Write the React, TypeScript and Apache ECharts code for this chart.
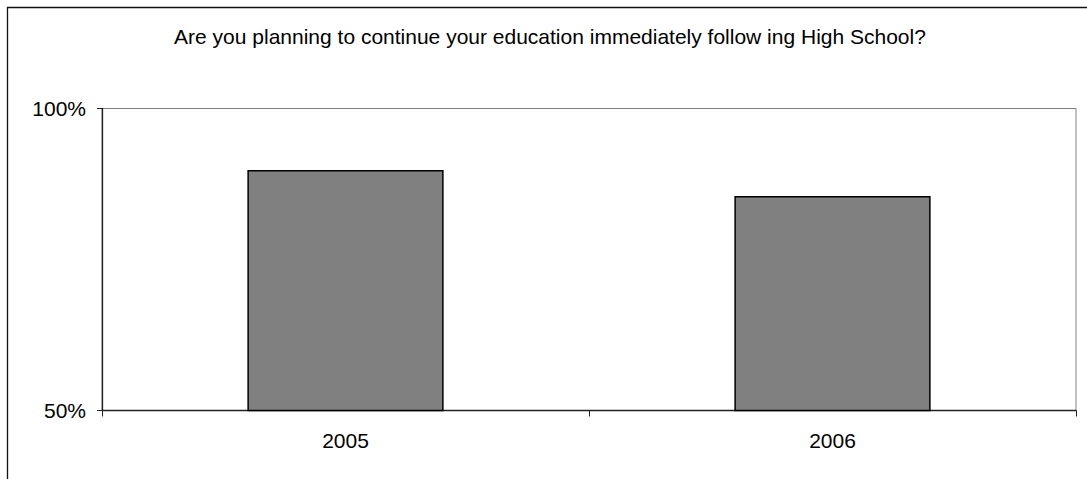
import React, { useEffect, useRef } from "react";
import * as echarts from "echarts";

const titleText = "Are you planning to continue your education immediately follow ing High School?";
const categories = ["2005", "2006"];
const values = [89.8, 85.5];
const yMin = 50;
const yMax = 100;

export default function App() {
  const ref = useRef<HTMLDivElement>(null);
  useEffect(() => {
    if (!ref.current) return;
    const chart = echarts.init(ref.current, null, { renderer: "svg" });
    chart.setOption({
      animation: false,
      backgroundColor: "#ffffff",
      textStyle: { fontFamily: "Liberation Sans, Arial, sans-serif" },
      title: {
        text: titleText,
        left: 550,
        textAlign: "center",
        top: 26,
        padding: 0,
        textStyle: { fontSize: 21, fontWeight: "normal", color: "#000", fontFamily: "Liberation Sans, Arial, sans-serif" },
      },
      graphic: [
        {
          type: "rect",
          shape: { x: 7.5, y: 7.5, width: 1100, height: 500 },
          style: { fill: "none", stroke: "#111", lineWidth: 1.3 },
          silent: true,
        },
      ],
      grid: {
        left: 102,
        right: 11,
        top: 108.5,
        bottom: 68.5,
        show: true,
        borderColor: "#808080",
        borderWidth: 1,
        backgroundColor: "transparent",
      },
      xAxis: {
        type: "category",
        data: categories,
        axisLine: { show: true, lineStyle: { color: "#222", width: 1.3 } },
        axisTick: { show: true, alignWithLabel: false, length: 6, lineStyle: { color: "#222" } },
        axisLabel: { color: "#000", fontSize: 21, margin: 19, fontFamily: "Liberation Sans, Arial, sans-serif" },
        splitLine: { show: false },
      },
      yAxis: {
        type: "value",
        min: yMin,
        max: yMax,
        interval: 50,
        axisLine: { show: true, lineStyle: { color: "#222", width: 1.3 } },
        axisTick: { show: true, length: 5, lineStyle: { color: "#222" } },
        axisLabel: {
          color: "#000",
          fontSize: 21,
          margin: 16,
          formatter: (v: number) => v + "%",
          fontFamily: "Liberation Sans, Arial, sans-serif",
        },
        splitLine: { show: false },
      },
      series: [
        {
          type: "bar",
          data: values,
          barWidth: "40.3%",
          itemStyle: { color: "#808080", borderColor: "#000", borderWidth: 1.5 },
          silent: true,
        },
      ],
    });
    return () => chart.dispose();
  }, []);
  return (
    <div
      ref={ref}
      style={{ position: "fixed", left: 0, top: 0, width: 1087, height: 479, background: "#fff" }}
    />
  );
}
